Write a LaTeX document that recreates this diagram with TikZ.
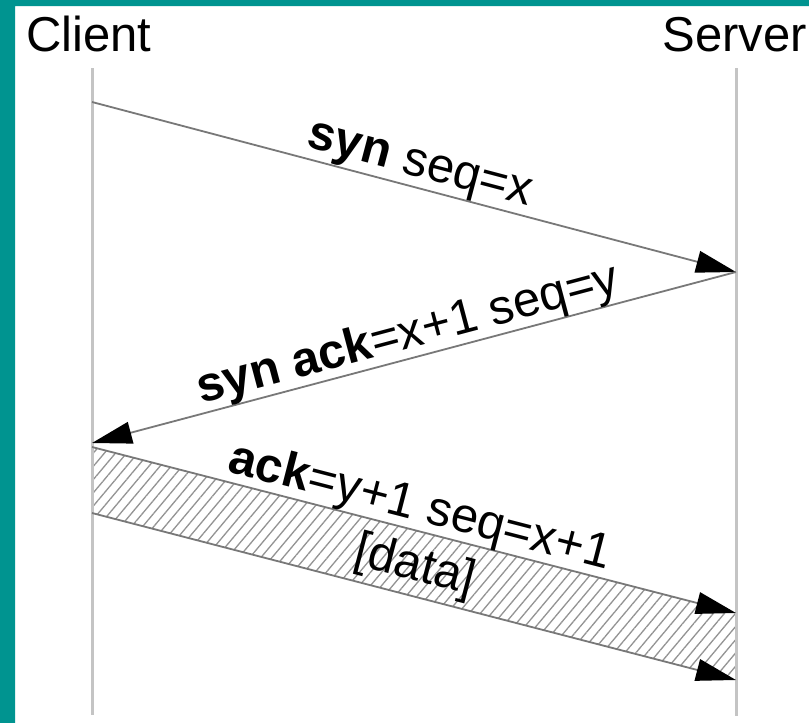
\documentclass[tikz,border=0pt]{standalone}
\usepackage{fontspec}
\setmainfont{Liberation Sans}
\usetikzlibrary{arrows.meta,patterns.meta}
\definecolor{tealbg}{RGB}{0,148,144}
\definecolor{lifegray}{RGB}{196,196,196}
\definecolor{msggray}{RGB}{120,120,120}
\tikzset{
	lifeline/.style={lifegray,line width=3pt},
	msg/.style={msggray,line width=1.8pt,-{Triangle[length=40pt,width=22pt,color=black]}},
	actor/.style={inner sep=0pt,font=\fontsize{49}{58}\selectfont},
	lbl/.style={sloped,anchor=base,inner sep=0pt,text=black,font=\fontsize{49}{58}\selectfont}
}
\begin{document}
\begin{tikzpicture}[x=1pt,y=-1pt,line join=round]
			\useasboundingbox (0,0) rectangle (809,723);
			\fill[white] (0,0) rectangle (809,723);
			\fill[tealbg] (0,0) rectangle (809,6) (0,0) rectangle (15,723);
			\node[actor,anchor=base west] (client) at (26,51) {Client};
			\node[actor,anchor=base east] (server) at (807,51) {Server};
			\coordinate (cTop) at (92,68); \coordinate (cBot) at (92,715);
			\coordinate (sTop) at (736,68); \coordinate (sBot) at (736,716);
			\coordinate (c1) at (92,102); \coordinate (s1) at (736,272);
			\coordinate (c2) at (92,443);
			\coordinate (c3) at (92,447); \coordinate (s3) at (736,613);
			\coordinate (c4) at (92,513); \coordinate (s4) at (736,680);
			\fill[pattern={Lines[angle=50,distance=8.5pt,line width=1.3pt]},pattern color=gray!85] (c3)--(s3)--(s4)--(c4)--cycle;
			\draw[lifeline] (cTop)--(cBot);
			\draw[lifeline] (sTop)--(sBot);
			\draw[msg] (c1)--(s1) node[lbl,pos=0.5,yshift=11pt]{\textbf{syn} seq=x};
			\draw[msg] (s1)--(c2) node[lbl,pos=0.5,yshift=10pt]{\textbf{syn ack}=x+1 seq=y};
			\draw[msg] (c3)--(s3) node[lbl,pos=0.5,yshift=10pt]{\textbf{ack}=y+1 seq=x+1};
			\draw[msg] (c4)--(s4) node[lbl,pos=0.49,yshift=16pt]{[data]};
		\end{tikzpicture}
\end{document}
